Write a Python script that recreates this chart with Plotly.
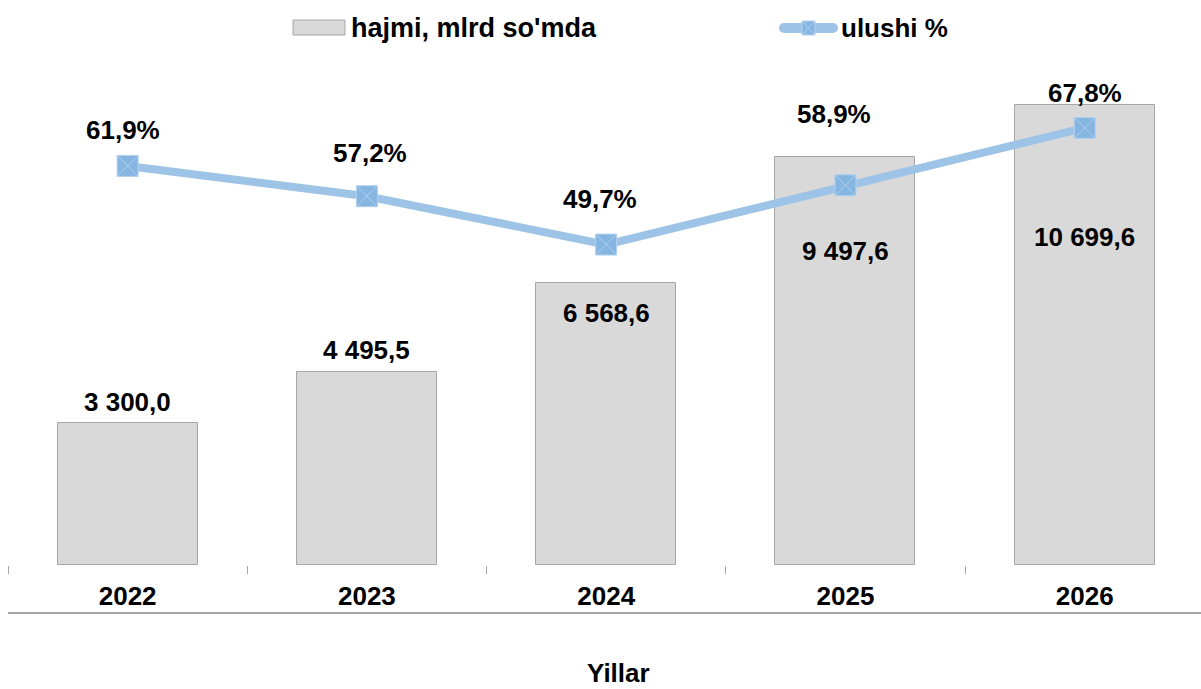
import plotly.graph_objects as go

years = ["2022", "2023", "2024", "2025", "2026"]
volume = [3300.0, 4495.5, 6568.6, 9497.6, 10699.6]
share = [61.9, 57.2, 49.7, 58.9, 67.8]
bar_name = "hajmi, mlrd so'mda"
line_name = "ulushi %"
axis_title = "Yillar"

# label placement offsets (pixels)
vol_yshift = [21, 22, -30, -94, -132]
share_yshift = [36, 43, 46, 71, 35]
share_xshift = [-5, 3, -6, -11, 0]

W, H = 1201, 689
FONT = "Liberation Sans, Arial, sans-serif"
BAR_FILL = "#d9d9d9"
BAR_LINE = "#a6a6a6"
LINE_COL = "#9dc3e6"
MARK_COL = "#85b5e1"
FS = 26

def fmt_vol(v):
    return f"{v:,.1f}".replace(",", " ").replace(".", ",")

def fmt_pct(v):
    return f"{v:.1f}".replace(".", ",") + "%"

def px(x):
    return x / W

def py(y):
    return 1 - y / H

fig = go.Figure()
fig.add_trace(go.Bar(
    x=years, y=volume, name=bar_name, width=0.585,
    marker=dict(color=BAR_FILL, line=dict(color=BAR_LINE, width=1)),
    showlegend=False, yaxis="y",
))
fig.add_trace(go.Scatter(
    x=years, y=share, name=line_name, mode="lines+markers",
    line=dict(color=LINE_COL, width=8),
    marker=dict(symbol="square-x", size=21, color=MARK_COL,
                line=dict(color="#b3d1ee", width=1)),
    showlegend=False, yaxis="y2",
))

annotations = []
for i, v in enumerate(volume):
    annotations.append(dict(
        x=i, y=v, xref="x", yref="y", text=f"<b>{fmt_vol(v)}</b>",
        showarrow=False, yshift=vol_yshift[i], yanchor="middle",
        font=dict(family=FONT, size=FS, color="#000000"),
    ))
for i, v in enumerate(share):
    annotations.append(dict(
        x=i, y=v, xref="x", yref="y2", text=f"<b>{fmt_pct(v)}</b>",
        showarrow=False, yshift=share_yshift[i], xshift=share_xshift[i],
        yanchor="middle",
        font=dict(family=FONT, size=FS, color="#000000"),
    ))
# axis title
annotations.append(dict(
    x=px(618), y=0, xref="paper", yref="paper", text=f"<b>{axis_title}</b>",
    showarrow=False, xanchor="center", yanchor="bottom", borderpad=0,
    font=dict(family=FONT, size=26, color="#000000"),
))
# custom legend texts
annotations.append(dict(
    x=px(349), y=py(28), xref="paper", yref="paper", text=f"<b>{bar_name}</b>",
    showarrow=False, xanchor="left", yanchor="middle",
    font=dict(family=FONT, size=27, color="#000000"),
))
annotations.append(dict(
    x=px(839), y=py(28), xref="paper", yref="paper", text=f"<b>{line_name}</b>",
    showarrow=False, xanchor="left", yanchor="middle",
    font=dict(family=FONT, size=26, color="#000000"),
))

shapes = [
    # bottom rule
    dict(type="line", xref="paper", yref="paper", x0=px(8), x1=1, y0=py(613), y1=py(613),
         line=dict(color=BAR_LINE, width=2)),
    # legend: bar swatch
    dict(type="rect", xref="paper", yref="paper", x0=px(293), x1=px(345), y0=py(35), y1=py(20),
         fillcolor=BAR_FILL, line=dict(color=BAR_LINE, width=1)),
    # legend: line swatch
    dict(type="line", xref="paper", yref="paper", x0=px(785), x1=px(832), y0=py(28), y1=py(28),
         line=dict(color=LINE_COL, width=10)),
    dict(type="circle", xref="paper", yref="paper", x0=px(779), x1=px(789), y0=py(33), y1=py(23),
         fillcolor=LINE_COL, line=dict(width=0)),
    dict(type="circle", xref="paper", yref="paper", x0=px(828), x1=px(838), y0=py(33), y1=py(23),
         fillcolor=LINE_COL, line=dict(width=0)),
    dict(type="rect", xref="paper", yref="paper", x0=px(802), x1=px(815), y0=py(35), y1=py(21),
         fillcolor=MARK_COL, line=dict(color="#b3d1ee", width=1)),
    dict(type="line", xref="paper", yref="paper", x0=px(802), x1=px(815), y0=py(35), y1=py(21),
         line=dict(color="#b3d1ee", width=1)),
    dict(type="line", xref="paper", yref="paper", x0=px(802), x1=px(815), y0=py(21), y1=py(35),
         line=dict(color="#b3d1ee", width=1)),
]

top_px, bot_px = 60, 565
fig.update_layout(
    width=W, height=H,
    margin=dict(l=0, r=0, t=0, b=0),
    paper_bgcolor="white", plot_bgcolor="white",
    showlegend=False,
    xaxis=dict(
        domain=[px(8), 1], type="category", range=[-0.5, 4.486],
        tickson="boundaries", ticks="outside", ticklen=8, tickwidth=1,
        tickcolor=BAR_LINE, showline=False, showgrid=False, zeroline=False,
        tickfont=dict(family=FONT, size=FS, color="#000000"),
        tickprefix="<b>", ticksuffix="</b>",
        ticklabelstandoff=13,
    ),
    yaxis=dict(
        domain=[py(bot_px), py(top_px)], range=[0, (bot_px - top_px) / 0.043],
        visible=False, showgrid=False, zeroline=False,
    ),
    yaxis2=dict(
        domain=[py(bot_px), py(top_px)], range=[0, (bot_px - top_px) / 6.447],
        overlaying="y", side="right", visible=False, showgrid=False, zeroline=False,
    ),
    annotations=annotations,
    shapes=shapes,
    bargap=0,
)

fig.write_html("out.html", config={"displayModeBar": False},
               post_script="document.body.style.margin='0';")
